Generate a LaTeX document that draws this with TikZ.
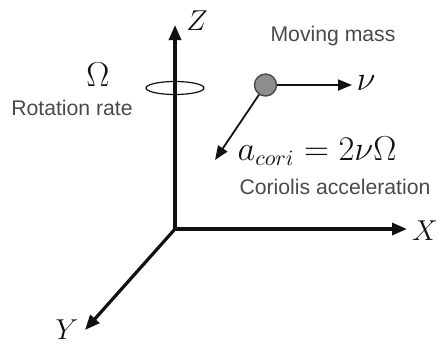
\documentclass[tikz,border=0pt]{standalone}
\usepackage{fontspec}
\setmainfont{Liberation Sans}
\usetikzlibrary{arrows.meta}
\definecolor{ink}{HTML}{111111}
\definecolor{mutedink}{HTML}{4A4A4A}
\definecolor{ball}{HTML}{8E8E8E}
\begin{document}
\begin{tikzpicture}[x=0.5pt, y=-0.5pt,
          ax/.style={ink, line width=1.6pt, -{Triangle[length=7.5pt, width=6pt]}},
          vec/.style={ink, line width=0.9pt, -{Triangle[length=7pt, width=5.5pt]}},
          t/.style={font=\fontsize{10.6}{12}\selectfont, color=mutedink},
          m/.style={font=\fontsize{14}{16}\selectfont, color=ink}]
        \useasboundingbox (0,0) rectangle (437,345);
        \coordinate (o) at (175,229);
        \coordinate (zt) at (175,25);
        \coordinate (xt) at (407,229);
        \coordinate (yt) at (85,330);
        \draw[ink, line width=0.6pt] (175,88) ellipse [x radius=29, y radius=6.5];
        \draw[ax] (o) -- (zt);
        \draw[ax] (o) -- (xt);
        \draw[ax] (o) -- (yt);
        \node[m] (zl) at (197,21) {$Z$};
        \node[m] (xl) at (425,231) {$X$};
        \node[m] (yl) at (67,330) {$Y$};
        \node[m, font=\fontsize{16}{18}\selectfont] (om) at (98,75) {$\Omega$};
        \node[t] (rr) at (72,108) {Rotation rate};
        \node[draw=mutedink, line width=0.7pt, fill=ball, circle, minimum size=11pt,
              inner sep=0pt] (mass) at (265.5,85) {};
        \coordinate (vt) at (352,85);
        \coordinate (at) at (215,160);
        \draw[vec] (mass) -- (vt);
        \draw[vec] (mass) -- (at);
        \node[t] (mm) at (333,36) {Moving mass};
        \node[m, font=\fontsize{16}{18}\selectfont] (nu) at (366,83) {$\nu$};
        \node[m, font=\fontsize{16}{18}\selectfont] (eq) at (317,151) {$a_{cori} = 2\nu\Omega$};
        \node[t] (ca) at (335,187) {Coriolis acceleration};
      \end{tikzpicture}
\end{document}
